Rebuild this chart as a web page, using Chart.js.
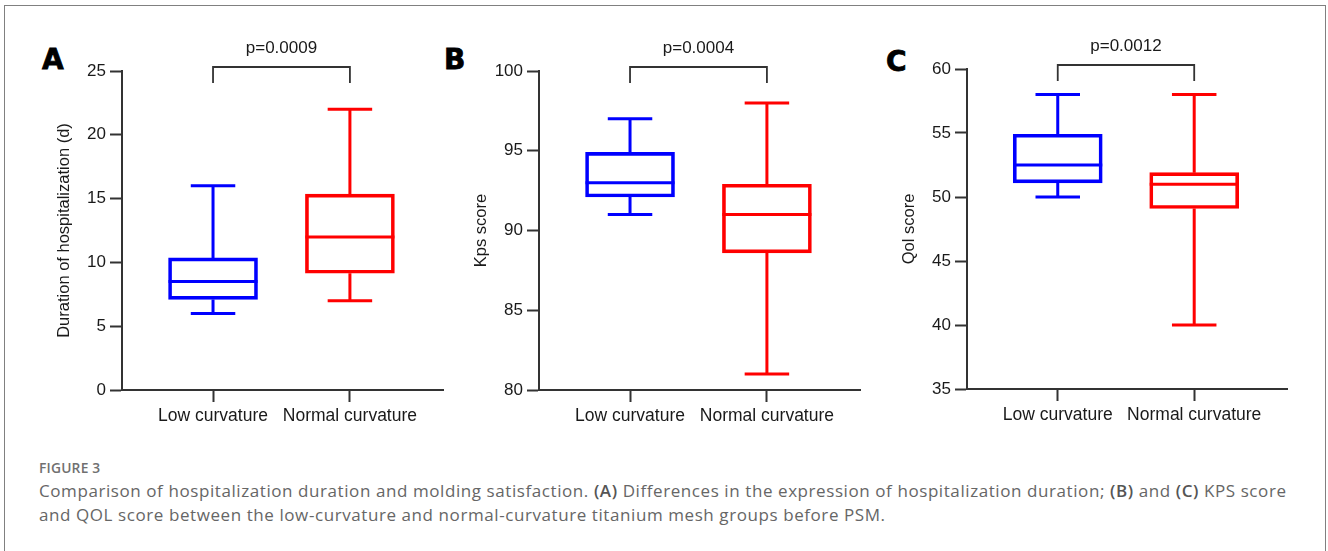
<!DOCTYPE html>
<html>
<head>
<meta charset="utf-8">
<script src="https://cdn.jsdelivr.net/npm/chart.js@4"></script>
<style>
  body { margin: 0; width: 1328px; height: 551px; background: #fff; position: relative; overflow: hidden; }
  .frame { position: absolute; left: 4px; top: 5px; width: 1320px; height: 600px; border: 1px solid #808080; }
  .panel { position: absolute; top: 20px; }
  .letter { position: absolute; font-family: "DejaVu Sans", sans-serif; font-weight: bold; font-size: 28px; line-height: 28px; color: #000; -webkit-text-stroke: 0.8px #000; }
  .figno { position: absolute; left: 39px; top: 458px; font-family: "Open Sans", sans-serif; font-weight: 600; font-size: 13.8px; color: #707070; letter-spacing: 0.2px; }
  .caption { position: absolute; left: 39px; top: 479px; font-family: "Open Sans", sans-serif; font-size: 17px; line-height: 24px; color: #666; white-space: nowrap; letter-spacing: 0.58px; }
  .caption b { font-weight: 600; color: #555; }
</style>
</head>
<body>
<div class="frame"></div>

<div class="letter" style="left:42px;top:46px">A</div>
<div class="letter" style="left:444px;top:46px">B</div>
<div class="letter" style="left:886px;top:48px">C</div>

<div class="panel" id="pA"><canvas id="chartA"></canvas></div>
<div class="panel" id="pB"><canvas id="chartB"></canvas></div>
<div class="panel" id="pC"><canvas id="chartC"></canvas></div>

<div class="figno">FIGURE 3</div>
<div class="caption">Comparison of hospitalization duration and molding satisfaction. <b>(A)</b> Differences in the expression of hospitalization duration; <b>(B)</b> and <b>(C)</b> KPS score<br>and QOL score between the low-curvature and normal-curvature titanium mesh groups before PSM.</div>

<script>
const groups = ['Low curvature', 'Normal curvature'];
const boxColors = ['#0000ff', '#ff0000'];

// A - duration of hospitalization (d)
const durMin = [6, 7];
const durQ1 = [7.1, 9.15];
const durMed = [8.5, 12];
const durQ3 = [10.35, 15.35];
const durMax = [16, 22];

// B - Kps score
const kpsMin = [91, 81];
const kpsQ1 = [92.1, 88.6];
const kpsMed = [93, 91];
const kpsQ3 = [94.9, 92.9];
const kpsMax = [97, 98];

// C - Qol score
const qolMin = [50, 40];
const qolQ1 = [51.1, 49.1];
const qolMed = [52.5, 51];
const qolQ3 = [54.9, 51.9];
const qolMax = [58, 58];

const pLabels = ['p=0.0009', 'p=0.0004', 'p=0.0012'];
const yTitles = ['Duration of hospitalization (d)', 'Kps score', 'Qol score'];
const yRanges = [[0, 25, 5], [80, 100, 5], [35, 60, 5]];

const fam = '"Liberation Sans", Arial, sans-serif';
const ink = '#1a1a1a';

// whiskers, caps, median and the p-value bracket
const boxPlugin = {
  id: 'boxExtras',
  afterDraw(chart, args, opts) {
    const { ctx, chartArea } = chart;
    const x = chart.scales.x, y = chart.scales.y;
    const meta = chart.getDatasetMeta(0);
    ctx.save();
    ctx.lineWidth = 3;
    opts.min.forEach((_, i) => {
      const cx = x.getPixelForValue(i);
      const half = meta.data[i].width / 2;
      const cap = half / 2;
      ctx.strokeStyle = boxColors[i];
      ctx.beginPath();
      ctx.moveTo(cx, y.getPixelForValue(opts.q1[i]));
      ctx.lineTo(cx, y.getPixelForValue(opts.min[i]));
      ctx.moveTo(cx - cap, y.getPixelForValue(opts.min[i]));
      ctx.lineTo(cx + cap, y.getPixelForValue(opts.min[i]));
      ctx.moveTo(cx, y.getPixelForValue(opts.q3[i]));
      ctx.lineTo(cx, y.getPixelForValue(opts.max[i]));
      ctx.moveTo(cx - cap, y.getPixelForValue(opts.max[i]));
      ctx.lineTo(cx + cap, y.getPixelForValue(opts.max[i]));
      ctx.moveTo(cx - half, y.getPixelForValue(opts.med[i]));
      ctx.lineTo(cx + half, y.getPixelForValue(opts.med[i]));
      ctx.stroke();
    });
    // bracket
    const x0 = x.getPixelForValue(0), x1 = x.getPixelForValue(1);
    const top = chartArea.top - 4;
    ctx.strokeStyle = '#333';
    ctx.lineWidth = 1.8;
    ctx.beginPath();
    ctx.moveTo(x0, chartArea.top + 12);
    ctx.lineTo(x0, top);
    ctx.lineTo(x1, top);
    ctx.lineTo(x1, chartArea.top + 12);
    ctx.stroke();
    ctx.fillStyle = ink;
    ctx.font = '17px ' + fam;
    ctx.textAlign = 'center';
    ctx.textBaseline = 'middle';
    ctx.fillText(opts.p, (x0 + x1) / 2, chartArea.top - 23);
    ctx.restore();
  }
};

function makePanel(id, area, stats, idx) {
  // area = chart area in page pixels [left, right, top, bottom]
  const [L, R, T, B] = area;
  const w = R - L + 100, h = 430;
  const holder = document.getElementById('p' + id);
  holder.style.left = (L - 90) + 'px';
  const canvas = document.getElementById('chart' + id);
  canvas.width = w; canvas.height = h;
  canvas.style.width = w + 'px'; canvas.style.height = h + 'px';
  const [ymin, ymax, step] = yRanges[idx];

  new Chart(canvas, {
    type: 'bar',
    data: {
      datasets: [{
        data: groups.map((g, i) => ({ x: i, y: [stats.q1[i], stats.q3[i]] })),
        backgroundColor: 'rgba(0,0,0,0)',
        borderColor: boxColors,
        borderWidth: 3,
        borderSkipped: false,
        barThickness: 89
      }]
    },
    options: {
      responsive: false,
      animation: false,
      devicePixelRatio: 1,
      layout: { padding: { left: 20, right: 10, top: T - 20, bottom: 450 - B - 40 } },
      plugins: {
        legend: { display: false },
        tooltip: { enabled: false },
        boxExtras: Object.assign({ p: pLabels[idx] }, stats)
      },
      scales: {
        x: {
          type: 'linear',
          offset: false,
          min: -0.665,
          max: 1.68,
          afterBuildTicks: s => { s.ticks = groups.map((g, i) => ({ value: i })); },
          afterFit: s => { s.height = 40; },
          ticks: { callback: v => groups[v], font: { family: fam, size: 17.5 }, color: ink, padding: 4, autoSkip: false, maxRotation: 0 },
          grid: { offset: false, drawOnChartArea: false, tickLength: 12, tickWidth: 2, tickColor: '#333' },
          border: { color: '#333', width: 2 }
        },
        y: {
          min: ymin,
          max: ymax,
          afterFit: s => { s.width = 70; },
          ticks: { stepSize: step, font: { family: fam, size: 17 }, color: ink, padding: 4 },
          grid: { drawOnChartArea: false, tickLength: 12, tickWidth: 2, tickColor: '#333' },
          border: { color: '#333', width: 2 },
          title: { display: true, text: yTitles[idx], font: { family: fam, size: 16.5 }, color: ink, padding: { top: 3, bottom: 4 } }
        }
      }
    },
    plugins: [boxPlugin]
  });
}

makePanel('A', [122, 443, 71, 390], { min: durMin, q1: durQ1, med: durMed, q3: durQ3, max: durMax }, 0);
makePanel('B', [539, 860, 71, 390], { min: kpsMin, q1: kpsQ1, med: kpsMed, q3: kpsQ3, max: kpsMax }, 1);
makePanel('C', [967, 1287, 69, 389], { min: qolMin, q1: qolQ1, med: qolMed, q3: qolQ3, max: qolMax }, 2);
</script>
</body>
</html>
